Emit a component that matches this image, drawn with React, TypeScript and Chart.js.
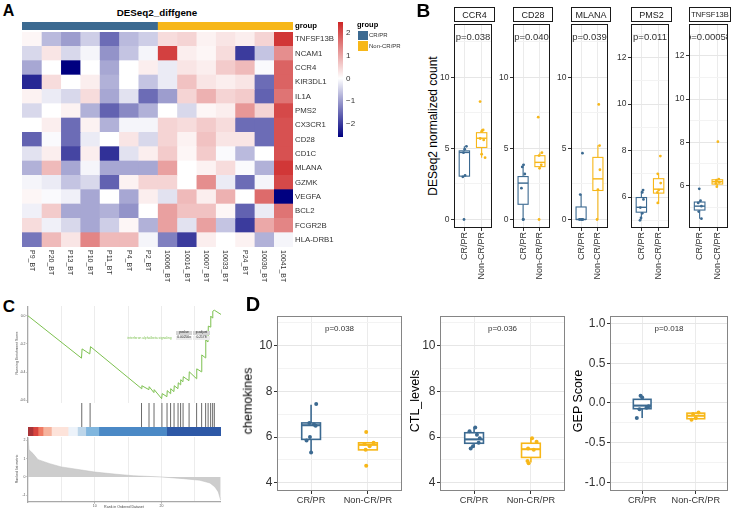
import React, { useEffect, useRef } from 'react';
import Chart from 'chart.js/auto';

const FONT = 'Arial, "Liberation Sans", Helvetica, sans-serif';
const BLUE = '#3c6a91';
const YELLOW = '#f7b719';
const GREEN = '#7cc04f';
const INK = '#333333';

// ---------------- Panel A : heatmap ----------------
const GENES = ['TNFSF13B', 'NCAM1', 'CCR4', 'KIR3DL1', 'IL1A', 'PMS2', 'CX3CR1', 'CD28', 'CD1C', 'MLANA', 'GZMK', 'VEGFA', 'BCL2', 'FCGR2B', 'HLA-DRB1'];
const SAMPLES = ['P9_BT', 'P20_BT', 'P13_BT', 'P10_BT', 'P11_BT', 'P4_BT', 'P2_BT', '10006_BT', '10014_BT', '10007_BT', '10033_BT', 'P24_BT', '10030_BT', '10041_BT'];
const GROUP_NAMES = ['CR/PR', 'Non-CR/PR'];
const GROUP_SIZES = [7, 7];
const HEAT_VALUES = [
  [0.1, -0.7, -1.0, -0.5, -1.5, -0.7, -0.5, 0.4, 0.5, 0.15, 0.3, 0.2, 0.5, 2.3],
  [-0.4, 0.3, -0.4, -0.1, -1.1, -0.6, -0.1, 2.2, 0.2, 0.1, 0.4, -2.0, -0.6, 1.3],
  [-0.9, 0.0, -2.6, 0.0, -0.9, 0.0, 0.2, -0.2, 0.3, 0.2, 0.6, 0.8, -0.05, 1.8],
  [-2.2, 0.4, 0.0, 0.2, -0.8, 0.0, -0.6, -0.2, 0.7, 0.3, 0.2, 0.3, -1.5, 1.8],
  [0.15, -0.2, -0.4, 0.4, -0.9, -0.3, -1.5, -1.0, 0.5, 0.9, 0.5, 0.6, -1.6, 1.6],
  [-0.4, 0.0, 0.15, -0.8, -1.6, -1.2, -0.8, 0.0, -0.4, 0.1, 0.2, 1.2, 0.5, 2.1],
  [0.0, 0.2, -1.5, 0.15, -0.8, -0.1, -0.1, 0.5, 0.4, 0.6, 0.4, -1.5, -1.5, 2.0],
  [-1.6, -0.05, -1.5, -0.2, 0.0, 0.3, -0.4, 0.5, 0.15, 0.7, 0.3, 0.3, -1.5, 2.0],
  [-0.3, 0.2, -1.9, 0.2, -2.1, -0.3, 0.2, 0.6, 0.1, 0.6, -0.05, -0.7, 0.0, 2.0],
  [-0.8, 0.8, -0.9, -0.1, -0.9, -0.9, -0.9, 1.1, 0.0, 0.15, 0.4, -0.05, -0.8, 2.3],
  [-0.1, -0.2, -0.6, -0.4, -1.6, 0.15, 0.5, 0.5, 0.0, 1.3, -0.2, -1.5, -0.1, 2.1],
  [0.1, -0.05, -0.15, -0.9, 0.0, -0.9, 0.2, -0.3, 0.8, 0.2, 0.9, 0.0, 1.7, -2.6],
  [-0.15, 0.6, -0.9, -0.9, -0.8, -1.1, 0.0, 1.1, 0.7, 0.7, 0.1, -1.6, -0.2, 1.6],
  [0.4, -0.15, -0.4, -0.9, -0.5, 0.1, -0.8, 1.1, -0.3, 1.1, -0.6, -2.0, 1.0, 1.4],
  [-1.4, 0.8, 0.3, 1.4, 0.8, 0.8, -0.1, -1.3, -2.0, 0.2, 0.0, 0.15, -0.8, -0.1],
];
const COLORBAR_RANGE = [-2.6, 2.5];
const COLORBAR_TICKS = [-2, -1, 0, 1, 2];

// ---------------- Panel B : facets ----------------
const B_GENES = ['CCR4', 'CD28', 'MLANA', 'PMS2', 'TNFSF13B'];
const B_PVALUES = ['p=0.038', 'p=0.040', 'p=0.039', 'p=0.011', 'p=0.00058'];
const CATEGORIES = ['CR/PR', 'Non-CR/PR'];

const CCR4_CR = [5.15, 4.95, 4.7, 3.1, 3.0, 0.0];
const CCR4_CR_JIT = [0.12, 0.02, -0.05, 0.04, -0.09, -0.02];
const CCR4_NON = [8.3, 6.3, 6.2, 5.7, 5.6, 4.6, 4.35];
const CCR4_NON_JIT = [-0.09, 0.09, 0.0, -0.08, 0.12, 0.0, 0.2];
const CCR4_BOX_CR = [3.0, 3.05, 4.72, 4.83, 5.15];
const CCR4_BOX_NON = [4.35, 5.07, 5.72, 6.11, 6.35];

const CD28_CR = [3.85, 3.7, 3.2, 2.2, 0.0, 0.0];
const CD28_CR_JIT = [0.03, -0.05, 0.1, -0.1, 0.0, 0.02];
const CD28_NON = [7.2, 4.7, 4.5, 3.85, 3.6, 0.0];
const CD28_NON_JIT = [-0.1, 0.12, -0.05, 0.08, -0.02, -0.05];
const CD28_BOX_CR = [0.0, 1.07, 2.56, 3.02, 3.9];
const CD28_BOX_NON = [3.6, 3.72, 4.02, 4.49, 4.72];

const MLANA_CR = [4.67, 1.75, 0.0, 0.0, 0.0, 0.0];
const MLANA_CR_JIT = [0.08, -0.05, -0.1, 0.0, 0.05, 0.1];
const MLANA_NON = [8.1, 5.2, 3.5, 2.1, 0.0];
const MLANA_NON_JIT = [0.05, 0.1, 0.12, 0.0, -0.05];
const MLANA_BOX_CR = [0.0, 0.0, 0.0, 0.88, 1.77];
const MLANA_BOX_NON = [0.0, 2.04, 2.86, 4.37, 5.23];

const PMS2_CR = [6.3, 6.2, 5.9, 5.55, 5.3, 5.1, 5.0];
const PMS2_CR_JIT = [0.1, 0.05, 0.12, -0.06, 0.05, -0.02, -0.08];
const PMS2_NON = [7.76, 7.0, 6.6, 6.3, 6.2, 5.75];
const PMS2_NON_JIT = [0.1, -0.05, 0.12, 0.0, -0.07, -0.05];
const PMS2_BOX_CR = [5.04, 5.35, 5.56, 5.98, 6.27];
const PMS2_BOX_NON = [5.7, 6.17, 6.34, 6.79, 7.0];

const TNFSF13B_CR = [5.85, 5.3, 5.2, 5.05, 4.8, 4.47];
const TNFSF13B_CR_JIT = [-0.02, 0.05, -0.08, 0.1, -0.05, 0.1];
const TNFSF13B_NON = [8.03, 6.3, 6.25, 6.15, 6.1, 5.95];
const TNFSF13B_NON_JIT = [0.03, 0.08, -0.05, 0.1, -0.08, -0.03];
const TNFSF13B_BOX_CR = [4.47, 4.87, 5.05, 5.24, 5.3];
const TNFSF13B_BOX_NON = [5.95, 6.07, 6.18, 6.27, 6.3];

const B_YMIN = [-0.6, -0.6, -0.6, 4.67, 4.04];
const B_YMAX = [13.76, 13.76, 13.76, 13.44, 13.47];
const B_MAJOR_LOW = [0, 5, 10];
const B_MINOR_LOW = [2.5, 7.5, 12.5];
const B_MAJOR_HIGH = [6, 8, 10, 12];
const B_MINOR_HIGH = [5, 7, 9, 11, 13];

// ---------------- Panel C : GSEA ----------------
const ES_RANK = [0, 8.01, 8.1, 9.25, 9.36, 17.01, 17.05, 18.1, 18.15, 18.85, 18.9, 20.01, 20.1, 20.8, 20.85, 21.33, 21.37, 21.85, 21.9, 22.45, 22.5, 22.83, 22.87, 23.2, 23.25, 24.1, 24.15, 25.23, 25.27, 25.98, 26.02, 26.58, 26.62, 26.95, 27.0, 27.33, 27.37, 27.63, 27.67, 27.9, 28.9];
const ES_SCORE = [0, -0.301, -0.235, -0.271, -0.219, -0.518, -0.497, -0.525, -0.504, -0.546, -0.525, -0.589, -0.553, -0.575, -0.532, -0.553, -0.518, -0.539, -0.497, -0.518, -0.476, -0.49, -0.454, -0.469, -0.433, -0.461, -0.398, -0.447, -0.377, -0.398, -0.278, -0.299, -0.172, -0.186, -0.073, -0.08, -0.002, -0.016, 0.033, 0.04, 0.01];
const ES_TICKS = [-0.6, -0.4, -0.2, 0];
const GSEA_HITS = [8.05, 9.3, 17.0, 18.12, 18.87, 20.05, 20.82, 21.35, 21.87, 22.47, 22.85, 23.22, 24.12, 25.25, 26.0, 26.6, 26.97, 27.35, 27.65, 27.9];
const STRIP_STARTS = [0, 0.75, 1.5, 2.25, 3.5, 6.0, 7.4, 8.65, 10.6, 20.75];
const STRIP_ENDS = [0.75, 1.5, 2.25, 3.5, 6.0, 7.4, 8.65, 10.6, 20.75, 28.9];
const STRIP_COLORS = ['#a93438', '#d8443e', '#ef7a63', '#f6b39d', '#fde3da', '#edf3fa', '#bdd6ea', '#80b6de', '#4b89c6', '#2d58a6'];
const METRIC_RANK = [0, 0.15, 0.75, 1.5, 3.25, 5, 8.25, 10, 13.25, 15.75, 20, 23.25, 25.75, 27.25, 28, 28.5, 28.85];
const METRIC_VALUE = [2.15, 1.49, 1.28, 0.95, 0.73, 0.55, 0.37, 0.27, 0.15, 0.07, 0, -0.09, -0.18, -0.33, -0.55, -0.82, -1.27];
const METRIC_TICKS = [-1, 0, 1, 2];
const RANK_TICKS = [5, 10, 15, 20, 25];
const RANK_LABELED = [10, 20];

// ---------------- Panel D ----------------
const CHEMO_CR = [7.45, 6.62, 6.55, 6.5, 6.0, 5.85, 5.33];
const CHEMO_CR_JIT = [0.09, -0.03, 0.05, 0.08, -0.02, -0.08, 0.0];
const CHEMO_NON = [6.22, 5.75, 5.7, 5.6, 5.45, 4.75];
const CHEMO_NON_JIT = [-0.03, 0.1, -0.06, 0.03, -0.04, -0.03];
const CHEMO_BOX_CR = [5.32, 5.9, 6.52, 6.62, 7.41];
const CHEMO_BOX_NON = [5.44, 5.44, 5.66, 5.75, 5.75];

const CTL_CR = [6.42, 6.25, 6.1, 5.95, 5.75, 5.6, 5.5];
const CTL_CR_JIT = [0.02, -0.08, 0.05, 0.1, 0.08, -0.02, -0.06];
const CTL_NON = [5.95, 5.8, 5.5, 5.45, 4.95, 4.85];
const CTL_NON_JIT = [0.02, 0.1, -0.05, 0.05, -0.06, -0.04];
const CTL_BOX_CR = [5.54, 5.73, 5.9, 6.19, 6.43];
const CTL_BOX_NON = [4.89, 5.11, 5.47, 5.73, 5.97];

const GEP_CR = [0.09, 0.07, -0.04, -0.06, -0.08, -0.19];
const GEP_CR_JIT = [-0.03, 0.0, 0.12, 0.08, -0.05, -0.1];
const GEP_NON = [-0.12, -0.14, -0.19, -0.21];
const GEP_NON_JIT = [0.05, -0.05, 0.0, -0.08];
const GEP_BOX_CR = [-0.19, -0.072, -0.033, 0.046, 0.087];
const GEP_BOX_NON = [-0.21, -0.198, -0.161, -0.128, -0.12];

const D_TITLES = ['chemokines', 'CTL_levels', 'GEP Score'];
const D_PVALUES = ['p=0.038', 'p=0.036', 'p=0.018'];
const D_MAJOR_A = [4, 6, 8, 10];
const D_MINOR_A = [5, 7, 9, 11];
const D_MAJOR_G = [-1, -0.5, 0, 0.5, 1];
const D_MINOR_G = [-0.75, -0.25, 0.25, 0.75];

// ---------------- helpers ----------------
function heatColor(v: number) {
  const lo = [0, 0, 128], mid = [255, 255, 255], hi = [205, 38, 38];
  let c: number[];
  if (v >= 0) {
    const t = Math.min(v / COLORBAR_RANGE[1], 1);
    c = mid.map((m, i) => m + (hi[i] - m) * t);
  } else {
    const t = Math.min(v / COLORBAR_RANGE[0], 1);
    c = mid.map((m, i) => m + (lo[i] - m) * t);
  }
  return `rgb(${c.map((x) => Math.round(x)).join(',')})`;
}

const fixX = (h: number) => (s: any) => { s.height = h; s.paddingLeft = 0; s.paddingRight = 0; s.paddingTop = 0; s.paddingBottom = 0; };
const fixY = (w: number) => (s: any) => { s.width = w; s.paddingLeft = 0; s.paddingRight = 0; s.paddingTop = 0; s.paddingBottom = 0; };

const base = (pad: any) => ({
  animation: false,
  responsive: false,
  maintainAspectRatio: false,
  devicePixelRatio: 1,
  events: [],
  layout: { padding: pad },
  plugins: { legend: { display: false }, tooltip: { enabled: false }, title: { display: false } },
});

const framePlugin = (color: string, lw: number) => ({
  id: 'frame',
  afterDraw(chart: any) {
    const { ctx, chartArea: a } = chart;
    ctx.save();
    ctx.strokeStyle = color;
    ctx.lineWidth = lw;
    ctx.strokeRect(a.left + lw / 2, a.top + lw / 2, a.right - a.left - lw, a.bottom - a.top - lw);
    ctx.restore();
  },
});

const boxPlugin = (boxes: { x: number; s: number[]; color: string }[], width: number, lw: number) => ({
  id: 'boxes',
  beforeDatasetsDraw(chart: any) {
    const { ctx } = chart;
    const xs = chart.scales.x, ys = chart.scales.y;
    boxes.forEach((b) => {
      const [lo, q1, med, q3, hi] = b.s;
      const xc = xs.getPixelForValue(b.x);
      const x0 = xs.getPixelForValue(b.x - width / 2);
      const x1 = xs.getPixelForValue(b.x + width / 2);
      const py = (v: number) => ys.getPixelForValue(v);
      ctx.save();
      ctx.strokeStyle = b.color;
      ctx.lineWidth = lw;
      ctx.beginPath();
      ctx.moveTo(xc, py(hi)); ctx.lineTo(xc, py(q3));
      ctx.moveTo(xc, py(q1)); ctx.lineTo(xc, py(lo));
      ctx.stroke();
      ctx.fillStyle = '#ffffff';
      ctx.fillRect(x0, py(q3), x1 - x0, py(q1) - py(q3));
      ctx.strokeRect(x0, py(q3), x1 - x0, py(q1) - py(q3));
      ctx.lineWidth = lw * 1.3;
      ctx.beginPath();
      ctx.moveTo(x0, py(med)); ctx.lineTo(x1, py(med));
      ctx.stroke();
      ctx.restore();
    });
  },
});

const pTextPlugin = (text: string, dy: number, size: number) => ({
  id: 'ptext',
  afterDatasetsDraw(chart: any) {
    const { ctx, chartArea: a } = chart;
    ctx.save();
    ctx.beginPath();
    ctx.rect(a.left, a.top, a.right - a.left, a.bottom - a.top);
    ctx.clip();
    ctx.font = `${size}px ${FONT}`;
    ctx.fillStyle = INK;
    ctx.textAlign = 'center';
    ctx.textBaseline = 'middle';
    ctx.fillText(text, chart.scales.x.getPixelForValue(1.5), a.top + dy);
    ctx.restore();
  },
});

const colLabelPlugin = {
  id: 'colLabels',
  afterDraw(chart: any) {
    const { ctx, chartArea: a } = chart;
    const xs = chart.scales.x;
    ctx.save();
    ctx.font = `7px ${FONT}`;
    ctx.fillStyle = INK;
    ctx.textAlign = 'left';
    ctx.textBaseline = 'middle';
    SAMPLES.forEach((s, j) => {
      ctx.save();
      ctx.translate(xs.getPixelForValue(j + 0.5), a.bottom + 3);
      ctx.rotate(Math.PI / 2);
      ctx.fillText(s, 0, 0);
      ctx.restore();
    });
    ctx.restore();
  },
};

function ChartBox({ left, top, width, height, make }: { left: number; top: number; width: number; height: number; make: () => any }) {
  const ref = useRef<HTMLCanvasElement>(null);
  useEffect(() => {
    const chart = new Chart(ref.current as HTMLCanvasElement, make());
    return () => chart.destroy();
  }, []);
  return <canvas ref={ref} width={width} height={height} style={{ position: 'absolute', left, top, width, height }} />;
}

function T({ x, y, s, size = 9, bold = false, color = INK, rot = 0, align = 'center' }: any) {
  const tx = align === 'center' ? '-50%' : align === 'left' ? '0%' : '-100%';
  return (
    <div
      style={{
        position: 'absolute', left: x, top: y, whiteSpace: 'nowrap', lineHeight: 1,
        fontFamily: FONT, fontSize: size, fontWeight: bold ? 'bold' : 'normal', color,
        transform: `translate(${tx},-50%) rotate(${rot}deg)`, transformOrigin: align === 'left' ? '0% 50%' : '50% 50%',
      }}
    >
      {s}
    </div>
  );
}

// ---------------- box chart builder ----------------
type BoxSpec = {
  plot: { x: number; y: number; w: number; h: number };
  yMin: number; yMax: number; major: number[]; minor: number[]; fmt: (v: number) => string;
  cr: number[]; crJ: number[]; non: number[]; nonJ: number[]; boxCR: number[]; boxNon: number[];
  ptext: string; ptextDy: number; ptextSize: number;
  yW: number; xH: number; tickFont: number; xFont: number; rotate: boolean;
  frameColor: string; boxW: number; boxLw: number; ptR: number;
};

function boxChartProps(o: BoxSpec) {
  const left = o.plot.x - o.yW;
  const top = o.plot.y - 1;
  const width = o.plot.w + o.yW + 1;
  const height = o.plot.h + 1 + o.xH;
  const make = () => ({
    type: 'scatter',
    data: {
      datasets: [
        { data: o.cr.map((y, i) => ({ x: 1 + o.crJ[i], y })), backgroundColor: BLUE, borderColor: BLUE, pointRadius: o.ptR, pointBorderWidth: 0 },
        { data: o.non.map((y, i) => ({ x: 2 + o.nonJ[i], y })), backgroundColor: YELLOW, borderColor: YELLOW, pointRadius: o.ptR, pointBorderWidth: 0 },
      ],
    },
    options: {
      ...base({ top: 1, right: 1, left: 0, bottom: 0 }),
      scales: {
        x: {
          type: 'linear', min: 0.4, max: 2.6,
          afterBuildTicks: (s: any) => { s.ticks = [{ value: 1 }, { value: 2 }]; },
          ticks: {
            callback: (v: number) => CATEGORIES[Math.round(v) - 1],
            minRotation: o.rotate ? 90 : 0, maxRotation: o.rotate ? 90 : 0,
            font: { family: FONT, size: o.xFont }, color: INK, padding: 1, autoSkip: false,
          },
          grid: { color: '#ebebeb', lineWidth: 1, tickLength: 3, tickColor: INK },
          border: { display: false },
          afterFit: fixX(o.xH),
        },
        y: {
          type: 'linear', min: o.yMin, max: o.yMax,
          afterBuildTicks: (s: any) => { s.ticks = [...o.major, ...o.minor].sort((a, b) => a - b).map((v) => ({ value: v })); },
          ticks: {
            callback: (v: number) => (o.major.includes(v) ? o.fmt(v) : ''),
            font: { family: FONT, size: o.tickFont }, color: INK, padding: 1.5, autoSkip: false,
          },
          grid: {
            color: (c: any) => (c.tick && o.major.includes(c.tick.value) ? '#e6e6e6' : '#f3f3f3'),
            tickColor: (c: any) => (c.tick && o.major.includes(c.tick.value) ? INK : 'rgba(0,0,0,0)'),
            tickLength: 3,
          },
          border: { display: false },
          afterFit: fixY(o.yW),
        },
      },
    },
    plugins: [
      boxPlugin([{ x: 1, s: o.boxCR, color: BLUE }, { x: 2, s: o.boxNon, color: YELLOW }], o.boxW, o.boxLw),
      pTextPlugin(o.ptext, o.ptextDy, o.ptextSize),
      framePlugin(o.frameColor, 1),
    ],
  });
  return { left, top, width, height, make };
}

const B_PLOTS = [
  { x: 454, y: 21, w: 41, h: 207 },
  { x: 513, y: 21, w: 40, h: 207 },
  { x: 571, y: 21, w: 40, h: 207 },
  { x: 631, y: 21, w: 41, h: 207 },
  { x: 689, y: 21, w: 42, h: 207 },
];
const B_DATA = [
  [CCR4_CR, CCR4_CR_JIT, CCR4_NON, CCR4_NON_JIT, CCR4_BOX_CR, CCR4_BOX_NON],
  [CD28_CR, CD28_CR_JIT, CD28_NON, CD28_NON_JIT, CD28_BOX_CR, CD28_BOX_NON],
  [MLANA_CR, MLANA_CR_JIT, MLANA_NON, MLANA_NON_JIT, MLANA_BOX_CR, MLANA_BOX_NON],
  [PMS2_CR, PMS2_CR_JIT, PMS2_NON, PMS2_NON_JIT, PMS2_BOX_CR, PMS2_BOX_NON],
  [TNFSF13B_CR, TNFSF13B_CR_JIT, TNFSF13B_NON, TNFSF13B_NON_JIT, TNFSF13B_BOX_CR, TNFSF13B_BOX_NON],
];

const B_CHARTS = B_PLOTS.map((p, i) => boxChartProps({
  plot: p, yMin: B_YMIN[i], yMax: B_YMAX[i],
  major: i < 3 ? B_MAJOR_LOW : B_MAJOR_HIGH, minor: i < 3 ? B_MINOR_LOW : B_MINOR_HIGH,
  fmt: (v) => String(v),
  cr: B_DATA[i][0], crJ: B_DATA[i][1], non: B_DATA[i][2], nonJ: B_DATA[i][3], boxCR: B_DATA[i][4], boxNon: B_DATA[i][5],
  ptext: B_PVALUES[i], ptextDy: 13.5, ptextSize: 9.5,
  yW: 20, xH: 62, tickFont: 8.5, xFont: 9, rotate: true,
  frameColor: '#1a1a1a', boxW: 0.6, boxLw: 1.1, ptR: 1.4,
}));

const D_PLOTS = [
  { x: 277, y: 313, w: 128, h: 178 },
  { x: 440, y: 313, w: 128, h: 178 },
  { x: 610, y: 313, w: 121, h: 178 },
];
const D_DATA = [
  [CHEMO_CR, CHEMO_CR_JIT, CHEMO_NON, CHEMO_NON_JIT, CHEMO_BOX_CR, CHEMO_BOX_NON],
  [CTL_CR, CTL_CR_JIT, CTL_NON, CTL_NON_JIT, CTL_BOX_CR, CTL_BOX_NON],
  [GEP_CR, GEP_CR_JIT, GEP_NON, GEP_NON_JIT, GEP_BOX_CR, GEP_BOX_NON],
];
const D_CHARTS = D_PLOTS.map((p, i) => boxChartProps({
  plot: p, yMin: i < 2 ? 3.64 : -1.108, yMax: i < 2 ? 11.3 : 1.095,
  major: i < 2 ? D_MAJOR_A : D_MAJOR_G, minor: i < 2 ? D_MINOR_A : D_MINOR_G,
  fmt: i < 2 ? (v) => String(v) : (v) => v.toFixed(1),
  cr: D_DATA[i][0], crJ: D_DATA[i][1], non: D_DATA[i][2], nonJ: D_DATA[i][3], boxCR: D_DATA[i][4], boxNon: D_DATA[i][5],
  ptext: D_PVALUES[i], ptextDy: 13, ptextSize: 8,
  yW: i < 2 ? 24 : 32, xH: 16, tickFont: 12, xFont: 9.2, rotate: false,
  frameColor: '#858585', boxW: 0.33, boxLw: 1.6, ptR: 2,
}));

// ---------------- panel A charts ----------------
const heatmapMake = () => ({
  type: 'bar',
  data: {
    labels: GENES,
    datasets: SAMPLES.map((s, j) => ({
      label: s,
      data: GENES.map(() => 1),
      backgroundColor: HEAT_VALUES.map((row) => heatColor(row[j])),
      borderWidth: 0, barPercentage: 1, categoryPercentage: 1,
    })),
  },
  options: {
    ...base({ top: 0, right: 0, left: 0, bottom: 40 }),
    indexAxis: 'y',
    scales: {
      x: { stacked: true, min: 0, max: SAMPLES.length, display: false },
      y: {
        stacked: true, position: 'right', grid: { display: false, drawTicks: false }, border: { display: false },
        ticks: { font: { family: FONT, size: 7.8 }, color: INK, padding: 2, autoSkip: false },
        afterFit: fixY(70),
      },
    },
  },
  plugins: [colLabelPlugin],
});

const groupMake = () => ({
  type: 'bar',
  data: {
    labels: ['group'],
    datasets: GROUP_NAMES.map((g, i) => ({
      label: g, data: [GROUP_SIZES[i]], backgroundColor: i === 0 ? BLUE : YELLOW,
      borderWidth: 0, barPercentage: 1, categoryPercentage: 1,
    })),
  },
  options: {
    ...base({ top: 0, right: 0, left: 0, bottom: 0 }),
    indexAxis: 'y',
    scales: {
      x: { stacked: true, min: 0, max: SAMPLES.length, display: false },
      y: {
        stacked: true, position: 'right', grid: { display: false, drawTicks: false }, border: { display: false },
        ticks: { font: { family: FONT, size: 7.8, weight: 'bold' }, color: '#000', padding: 2 },
        afterFit: fixY(40),
      },
    },
  },
});

const colorbarMake = () => ({
  type: 'bar',
  data: {
    labels: [''],
    datasets: [{
      data: [[COLORBAR_RANGE[0], COLORBAR_RANGE[1]]],
      barPercentage: 1, categoryPercentage: 1, borderWidth: 0,
      backgroundColor: (c: any) => {
        const a = c.chart.chartArea;
        if (!a) return '#ffffff';
        const g = c.chart.ctx.createLinearGradient(0, a.bottom, 0, a.top);
        g.addColorStop(0, 'rgb(0,0,128)');
        g.addColorStop(-COLORBAR_RANGE[0] / (COLORBAR_RANGE[1] - COLORBAR_RANGE[0]), '#ffffff');
        g.addColorStop(1, 'rgb(205,38,38)');
        return g;
      },
    }],
  },
  options: {
    ...base({ top: 5, right: 0, left: 0, bottom: 5 }),
    scales: {
      x: { display: false },
      y: {
        position: 'right', min: COLORBAR_RANGE[0], max: COLORBAR_RANGE[1],
        afterBuildTicks: (s: any) => { s.ticks = COLORBAR_TICKS.map((v) => ({ value: v })); },
        ticks: { callback: (v: number) => (v < 0 ? '\u2212' + Math.abs(v) : String(v)), font: { family: FONT, size: 8 }, color: INK, padding: 3 },
        grid: { display: false, drawTicks: false }, border: { display: false },
        afterFit: fixY(16),
      },
    },
  },
});

// ---------------- panel C charts ----------------
const C_X = 28, C_W = 193, C_YW = 8;
const RANK_MAX = 28.9;

const esMake = () => ({
  type: 'scatter',
  data: { datasets: [{ data: ES_RANK.map((x, i) => ({ x, y: ES_SCORE[i] })), showLine: true, borderColor: GREEN, borderWidth: 1, pointRadius: 0, tension: 0 }] },
  options: {
    ...base({ top: 0, right: 0, left: 0, bottom: 0 }),
    scales: {
      x: {
        type: 'linear', min: 0, max: RANK_MAX,
        afterBuildTicks: (s: any) => { s.ticks = RANK_TICKS.map((v) => ({ value: v })); },
        ticks: { display: false }, grid: { color: '#ececec', drawTicks: false }, border: { display: false },
        afterFit: fixX(0),
      },
      y: {
        type: 'linear', min: -0.62, max: 0.07,
        afterBuildTicks: (s: any) => { s.ticks = ES_TICKS.map((v) => ({ value: v })); },
        ticks: { callback: (v: number) => v.toFixed(1), font: { family: FONT, size: 3.5 }, color: '#555', padding: 1 },
        grid: { drawOnChartArea: false, tickLength: 1.5, tickColor: '#999' },
        border: { display: true, color: '#a8a8a8', width: 1.3 },
        afterFit: fixY(C_YW),
      },
    },
  },
});

// each hit becomes a vertical segment (bottom, top, gap)
const hitsMake = () => ({
  type: 'scatter',
  data: {
    datasets: [{
      data: GSEA_HITS.flatMap((x) => [{ x, y: 0 }, { x, y: 1 }, { x, y: null }]),
      showLine: true, spanGaps: false, borderColor: '#6a6a6a', borderWidth: 1, pointRadius: 0,
    }],
  },
  options: {
    ...base({ top: 0, right: 0, left: C_YW, bottom: 0 }),
    scales: { x: { type: 'linear', min: 0, max: RANK_MAX, display: false }, y: { type: 'linear', min: 0, max: 1, display: false } },
  },
});

const stripMake = () => ({
  type: 'bar',
  data: {
    labels: [''],
    datasets: STRIP_STARTS.map((s, i) => ({ data: [[s, STRIP_ENDS[i]]], backgroundColor: STRIP_COLORS[i], grouped: false, barPercentage: 1, categoryPercentage: 1, borderWidth: 0 })),
  },
  options: {
    ...base({ top: 0, right: 0, left: C_YW, bottom: 0 }),
    indexAxis: 'y',
    scales: { x: { type: 'linear', min: 0, max: RANK_MAX, display: false }, y: { display: false } },
  },
});

const metricMake = () => ({
  type: 'scatter',
  data: { datasets: [{ data: METRIC_RANK.map((x, i) => ({ x, y: METRIC_VALUE[i] })), showLine: true, fill: 'origin', backgroundColor: '#cdcdcd', borderColor: '#bdbdbd', borderWidth: 0.5, pointRadius: 0 }] },
  options: {
    ...base({ top: 0, right: 0, left: 0, bottom: 0 }),
    scales: {
      x: {
        type: 'linear', min: 0, max: RANK_MAX,
        afterBuildTicks: (s: any) => { s.ticks = RANK_TICKS.map((v) => ({ value: v })); },
        ticks: { callback: (v: number) => (RANK_LABELED.includes(v) ? String(v) : ''), font: { family: FONT, size: 3.5 }, color: '#555', padding: 0.5, maxRotation: 0, autoSkip: false },
        grid: { color: '#ececec', tickLength: 1.5, tickColor: (c: any) => (c.tick && RANK_LABELED.includes(c.tick.value) ? '#999' : 'rgba(0,0,0,0)') },
        border: { display: true, color: '#a8a8a8', width: 1.3 },
        afterFit: fixX(6),
      },
      y: {
        type: 'linear', min: -1.37, max: 2.19,
        afterBuildTicks: (s: any) => { s.ticks = METRIC_TICKS.map((v) => ({ value: v })); },
        ticks: { callback: (v: number) => String(v), font: { family: FONT, size: 3.5 }, color: '#555', padding: 1 },
        grid: { drawOnChartArea: false, tickLength: 1.5, tickColor: '#999' },
        border: { display: true, color: '#a8a8a8', width: 1.3 },
        afterFit: fixY(C_YW),
      },
    },
  },
});

export default function App() {
  return (
    <div style={{ position: 'absolute', left: 0, top: 0, width: 738, height: 511, overflow: 'hidden', background: '#fff' }}>
      {/* Panel A */}
      <T x={8.5} y={10.5} s="A" size={16} bold color="#000" />
      <T x={157} y={13} s="DESeq2_diffgene" size={9.8} bold color="#000" />
      <ChartBox left={22} top={22} width={271 + 40} height={8} make={groupMake} />
      <ChartBox left={22} top={32} width={271 + 70} height={215 + 40} make={heatmapMake} />
      <ChartBox left={338} top={17} width={5 + 16} height={115 + 10} make={colorbarMake} />
      <T x={357} y={25} s="group" size={7.5} bold color="#000" align="left" />
      <div style={{ position: 'absolute', left: 358, top: 31, width: 10, height: 9, background: BLUE }} />
      <div style={{ position: 'absolute', left: 358, top: 41, width: 10, height: 10, background: YELLOW }} />
      <T x={369} y={35} s={GROUP_NAMES[0]} size={6} color={INK} align="left" />
      <T x={369} y={46} s={GROUP_NAMES[1]} size={6} color={INK} align="left" />

      {/* Panel B */}
      <T x={423.3} y={9.5} s="B" size={19} bold color="#000" />
      <T x={433} y={126} s="DESeq2 normalized count" size={12} color="#000" rot={-90} />
      {B_PLOTS.map((p, i) => (
        <div key={'strip' + i} style={{
          position: 'absolute', left: p.x, top: 7, width: p.w, height: 15, boxSizing: 'border-box',
          border: '1px solid #1a1a1a', background: '#fff', display: 'flex', alignItems: 'center', justifyContent: 'center',
          fontFamily: FONT, fontSize: i === 4 ? 7.5 : 9, color: '#1a1a1a', whiteSpace: 'nowrap', overflow: 'hidden',
        }}>{B_GENES[i]}</div>
      ))}
      {B_CHARTS.map((c, i) => <ChartBox key={'b' + i} {...c} />)}

      {/* Panel C */}
      <T x={8.8} y={306} s="C" size={17} bold color="#000" />
      <ChartBox left={C_X - C_YW} top={306} width={C_W + C_YW} height={97} make={esMake} />
      <ChartBox left={C_X - C_YW} top={403} width={C_W + C_YW} height={24} make={hitsMake} />
      <ChartBox left={C_X - C_YW} top={427} width={C_W + C_YW} height={9} make={stripMake} />
      <ChartBox left={C_X - C_YW} top={437} width={C_W + C_YW} height={65 + 6} make={metricMake} />
      <T x={18.3} y={353} s="Running Enrichment Score" size={3.6} color="#444" rot={-90} />
      <T x={18.3} y={469} s="Ranked list metric" size={3.6} color="#444" rot={-90} />
      <T x={124} y={508.3} s="Rank in Ordered Dataset" size={3.6} color="#444" />
      <T x={149.5} y={339} s="interferon alpha/beta signaling" size={3.3} color={GREEN} />
      <div style={{ position: 'absolute', left: 176, top: 331, width: 16, height: 4, background: '#d4d4d4' }} />
      <div style={{ position: 'absolute', left: 193, top: 331, width: 17, height: 4, background: '#d4d4d4' }} />
      <div style={{ position: 'absolute', left: 176, top: 336, width: 16, height: 4, background: '#ececec' }} />
      <div style={{ position: 'absolute', left: 193, top: 336, width: 17, height: 4, background: '#ececec' }} />
      <T x={184} y={333} s="pvalue" size={3.3} color="#222" />
      <T x={201.5} y={333} s="p.adjust" size={3.3} color="#222" />
      <T x={184} y={338} s="0.00256x" size={3.3} color="#222" />
      <T x={201.5} y={338} s="0.2178" size={3.3} color="#222" />

      {/* Panel D */}
      <T x={253} y={304} s="D" size={20} bold color="#000" />
      {D_CHARTS.map((c, i) => <ChartBox key={'d' + i} {...c} />)}
      <T x={248.3} y={401} s={D_TITLES[0]} size={12.5} color="#000" rot={-90} />
      <T x={415} y={401} s={D_TITLES[1]} size={12.5} color="#000" rot={-90} />
      <T x={578.3} y={401} s={D_TITLES[2]} size={12.5} color="#000" rot={-90} />
    </div>
  );
}
